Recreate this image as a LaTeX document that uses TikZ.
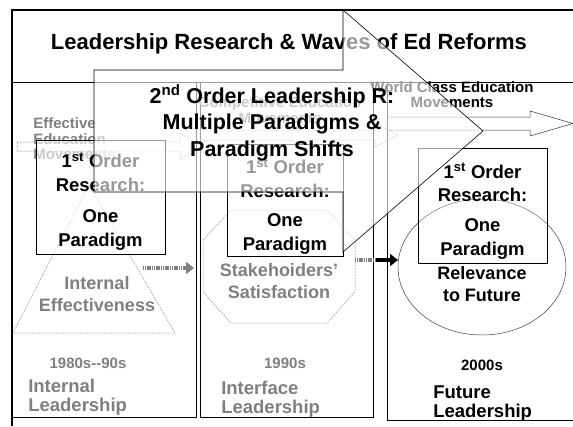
\documentclass[tikz,border=0pt]{standalone}
\usepackage{fontspec}
\setmainfont{Liberation Sans}
\usetikzlibrary{shapes.geometric,arrows.meta}

\tikzset{
  boxtext/.style={font=\bfseries\fontsize{18.5}{23.5}\selectfont, align=center, inner sep=0pt},
  shapetext/.style={font=\bfseries\fontsize{18}{22}\selectfont, align=center, inner sep=0pt},
  wavetext/.style={font=\bfseries\fontsize{15}{15.5}\selectfont, inner sep=0pt},
  eratext/.style={font=\bfseries\fontsize{18.5}{19}\selectfont, align=left, inner sep=0pt, anchor=west},
  decade/.style={font=\bfseries\fontsize{15}{16}\selectfont, inner sep=0pt},
  oldera/.style={text=gray},
  wave/.style={draw=gray, dash pattern=on 2pt off 1pt, line width=0.5pt},
  oldshape/.style={draw=gray!80, dash pattern=on 2pt off 1pt, line width=0.5pt},
  firstbox/.style={draw, line width=0.6pt, fill=white, fill opacity=0.6, text opacity=1},
  hatched/.style={line width=4pt, dash pattern=on 1.2pt off 0.6pt},
}

\begin{document}
\begin{tikzpicture}[x=1pt,y=-1pt,line width=0.6pt]
\useasboundingbox (0,0) rectangle (573,426);
\begin{scope}
\clip (0,0) rectangle (573,426);

% frame and columns
\draw[line width=1.8pt] (12,426) -- (12,10) -- (573,10);
\draw (12,82) -- (573,82);
\draw (196,82) -- (196,417) -- (12,417);
\draw (200,82) rectangle (373,417);
\draw (387,82) -- (387,420) -- (580,420);

\node[font=\bfseries\fontsize{22}{24}\selectfont, inner sep=0pt] (title) at (289,44)
  {Leadership Research \& Waves of Ed Reforms};

% waves of reforms
\draw[wave] (17,142) -- (180,142) -- (180,133) -- (202,146.5) -- (180,160) -- (180,151) -- (17,151) -- cycle;
\node[wavetext, oldera, align=left, anchor=west] (effective) at (33,139) {Effective\\Education\\Movements};
\draw[wave] (200,130) -- (375,130) -- (375,123) -- (398,135) -- (375,147) -- (375,140) -- (200,140) -- cycle;
\node[wavetext, oldera, align=center] (competitive) at (280,110) {Competitive Education\\Movements};
\draw[draw=black!80, line width=0.5pt] (387,117) -- (530,117) -- (530,111) -- (573,123.5) -- (530,136) -- (530,130) -- (387,130) -- cycle;
\node[wavetext, align=center] (worldclass) at (452,94.5) {World Class Education\\Movements};

% shapes of each era
\draw[oldshape] (89,185) -- (175,333) -- (13,333) -- cycle;
\draw[oldshape] (231,210) -- (327,210) -- (355,240) -- (355,292) -- (327,323) -- (231,323) -- (203,292) -- (203,240) -- cycle;
\node[draw=black!75, line width=0.5pt, ellipse, minimum width=168, minimum height=136] (future) at (482,267) {};

\node[shapetext, oldera] (internal) at (97,294) {Internal\\Effectiveness};
\node[shapetext, oldera] (stake) at (279,281) {Stakehoiders'\\Satisfaction};
\node[shapetext] (relevance) at (482,284) {Relevance\\to Future};

% first order boxes
\node[firstbox, minimum width=129, minimum height=114] (box1) at (100.5,197) {};
\node[boxtext] (box1a) at (100.5,172) {1\textsuperscript{st} Order\\Research:};
\node[boxtext] (box1b) at (100.5,230) {One\\Paradigm};
\node[firstbox, minimum width=116, minimum height=112] (box2) at (285,200) {};
\node[boxtext] (box2a) at (285,178) {1\textsuperscript{st} Order\\Research:};
\node[boxtext] (box2b) at (285,234) {One\\Paradigm};
\node[firstbox, fill opacity=0.3, minimum width=129, minimum height=115] (box3) at (482.5,205.5) {};
\node[boxtext] (box3a) at (482.5,182.5) {1\textsuperscript{st} Order\\Research:};
\node[boxtext] (box3b) at (482.5,239) {One\\Paradigm};

% shifts between eras
\coordinate (tri-r) at (143,268);
\coordinate (oct-l) at (194,268);
\draw[hatched, gray, -{Triangle[length=8pt,width=12pt]}] (tri-r) -- (oct-l);
\coordinate (oct-r) at (355,260);
\coordinate (oct-mid) at (376,260);
\coordinate (ell-l) at (398,260);
\draw[hatched, gray] (oct-r) -- (oct-mid);
\draw[line width=4pt, -{Triangle[length=8pt,width=12pt]}] (oct-mid) -- (ell-l);

% decades and leadership
\node[decade, oldera] (d1) at (88,363) {1980s-{}-90s};
\node[decade, oldera] (d2) at (285,363) {1990s};
\node[decade] (d3) at (482,365) {2000s};
\node[eratext, oldera] (lead1) at (28,397) {Internal\\Leadership};
\node[eratext, oldera] (lead2) at (221,399) {Interface\\Leadership};
\node[eratext] (lead3) at (433,403.5) {Future\\Leadership};

% 2nd order arrow over the waves
\path[fill=white, fill opacity=0.6] (94,70) -- (343,70) -- (343,10) -- (483,131) -- (343,252) -- (343,192) -- (94,192) -- cycle;
\draw (94,70) -- (343,70) -- (343,10) -- (483,131) -- (343,252) -- (343,192) -- (94,192) -- cycle;
\node[font=\bfseries\fontsize{21.5}{26.5}\selectfont, align=center, inner sep=0pt] (second) at (272,123)
  {2\textsuperscript{nd} Order Leadership R:\\Multiple Paradigms \&\\Paradigm Shifts};
\end{scope}
\end{tikzpicture}
\end{document}
